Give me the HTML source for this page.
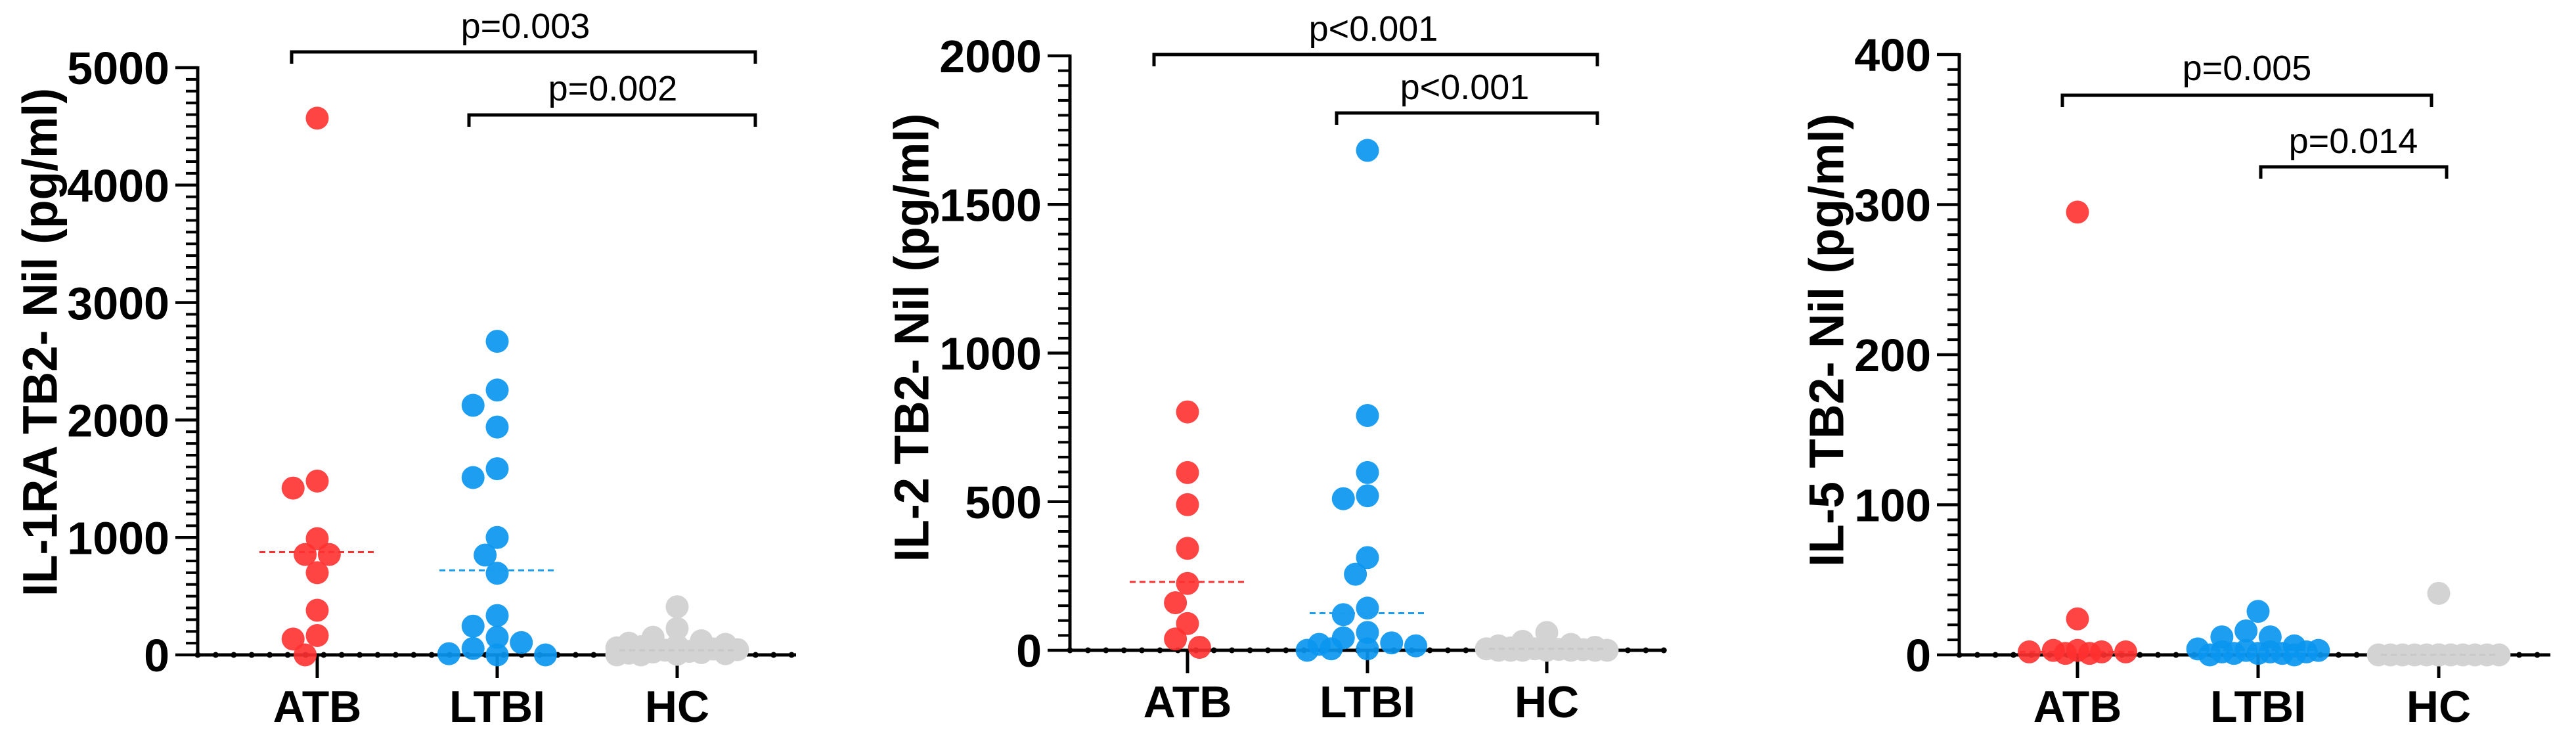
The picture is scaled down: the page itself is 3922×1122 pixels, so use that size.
<!DOCTYPE html>
<html><head><meta charset="utf-8"><style>
html,body{margin:0;padding:0;background:#fff}
svg{display:block}
text{font-family:"Liberation Sans",Arial,sans-serif}
</style></head><body>
<svg id="fig" width="3922" height="1122" viewBox="0 0 3922 1122" xmlns="http://www.w3.org/2000/svg"></svg>
<script>
// ---------- data ----------
const categories = ["ATB", "LTBI", "HC"];
const il1raATB = [0, 4570, 1420, 1480, 990, 855, 855, 700, 380, 165, 135];
const il1raLTBI = [2670, 2255, 2125, 1940, 1585, 1510, 1000, 850, 695, 335, 245, 150, 105, 55, 0, 10, 0];
const il1raHC = [410, 225, 150, 120, 100, 90, 80, 70, 60, 50, 45, 40, 30, 25, 20, 15, 10, 5, 0, 0];
const il1raMedians = [875, 720, 40];
const il1raTicks = [0, 1000, 2000, 3000, 4000, 5000];

const il2ATB = [802, 598, 490, 343, 225, 160, 90, 38, 10];
const il2LTBI = [1682, 790, 598, 520, 510, 312, 256, 142, 120, 60, 42, 20, 25, 5, 0, 5, 15];
const il2HC = [60, 30, 20, 15, 10, 10, 8, 5, 5, 3, 2, 0, 0, 0, 0, 0, 0, 0];
const il2Medians = [230, 125, 5];
const il2Ticks = [0, 500, 1000, 1500, 2000];

const il5ATB = [295, 24, 2, 3, 2, 3, 1, 1, 2];
const il5LTBI = [29, 16, 12, 12, 6, 3, 2, 1, 4, 2, 1, 0, 3, 2, 1, 0];
const il5HC = [41, 0, 0, 0, 0, 0, 0, 0, 0, 0, 0, 0, 0, 0, 0, 0, 0];
const il5Medians = [2, 2, 0];
const il5Ticks = [0, 100, 200, 300, 400];

const il1raP = ["p=0.003", "p=0.002"];
const il2P = ["p<0.001", "p<0.001"];
const il5P = ["p=0.005", "p=0.014"];
const yTitles = ["IL-1RA TB2- Nil (pg/ml)", "IL-2 TB2- Nil (pg/ml)", "IL-5 TB2- Nil (pg/ml)"];

// ---------- layout ----------
const NS = "http://www.w3.org/2000/svg";
const svg = document.getElementById("fig");
const colors = ["rgba(255,48,48,0.9)", "rgba(10,150,240,0.92)", "#d3d3d3"];
const medColors = ["#ff3030", "#1a9cf0", "#c8c8c8"];
function mk(tag, attrs, parent) {
  const e = document.createElementNS(NS, tag);
  for (const k in attrs) e.setAttribute(k, attrs[k]);
  (parent || svg).appendChild(e);
  return e;
}

const panels = [
  {axisX: 301, endX: 1212, y0: 997, yTop: 103, max: 5000, ticks: il1raTicks, minor: 10,
   cx: [483, 757, 1031], groups: [il1raATB, il1raLTBI, il1raHC], meds: il1raMedians,
   titleX: 61, titleY: 521, titleLen: 774, p: il1raP,
   br: [{x1: 444, x2: 1150, y: 79, ty: 58, tx: 800}, {x1: 714, x2: 1150, y: 175, ty: 153, tx: 933}]},
  {axisX: 1629, endX: 2536, y0: 990, yTop: 85, max: 2000, ticks: il2Ticks, minor: 10,
   cx: [1808, 2082, 2355], groups: [il2ATB, il2LTBI, il2HC], meds: il2Medians,
   titleX: 1388, titleY: 514, titleLen: 683, p: il2P,
   br: [{x1: 1757, x2: 2432, y: 83, ty: 62, tx: 2091}, {x1: 2035, x2: 2432, y: 172, ty: 151, tx: 2230}]},
  {axisX: 2983, endX: 3883, y0: 997, yTop: 83, max: 400, ticks: il5Ticks, minor: 10,
   cx: [3163, 3438, 3713], groups: [il5ATB, il5LTBI, il5HC], meds: il5Medians,
   titleX: 2781, titleY: 518, titleLen: 690, p: il5P,
   br: [{x1: 3140, x2: 3702, y: 145, ty: 122, tx: 3421}, {x1: 3442, x2: 3725, y: 254, ty: 233, tx: 3583}]}
];

const R = 17.5;
const MAXOFF = 100;

panels.forEach((P, pi) => {
  const g = mk("g", {});
  
  
  const yS = v => P.y0 - (v / P.max) * (P.y0 - P.yTop);

  const t = mk("text", {x: P.titleX, y: P.titleY, "font-size": 74, "font-weight": "bold",
    "text-anchor": "middle", "dominant-baseline": "central", textLength: P.titleLen,
    lengthAdjust: "spacingAndGlyphs", transform: `rotate(-90 ${P.titleX} ${P.titleY})`}, g);
  t.textContent = yTitles[pi];
  
  

  const step = P.ticks[1] - P.ticks[0];
  for (let i = 0; i < P.ticks.length; i++) {
    const y = yS(P.ticks[i]);
    mk("line", {x1: P.axisX - 34, x2: P.axisX, y1: y, y2: y, stroke: "#000", "stroke-width": 4.5}, g);
    const lb = mk("text", {x: P.axisX - 43, y: y, "font-size": 70, "font-weight": "bold",
      "text-anchor": "end", dy: "0.36em"}, g);
    lb.textContent = P.ticks[i];
    
    
    if (i < P.ticks.length - 1) {
      for (let m = 1; m < P.minor; m++) {
        const ym = yS(P.ticks[i] + step * m / P.minor);
        mk("line", {x1: P.axisX - 18, x2: P.axisX, y1: ym, y2: ym, stroke: "#000", "stroke-width": 4}, g);
      }
    }
  }
  const ya = mk("line", {x1: P.axisX, x2: P.axisX, y1: P.yTop - 2, y2: P.y0 + 2, stroke: "#000", "stroke-width": 5}, g);
  
  

  const xa = mk("line", {x1: P.axisX - 2, x2: P.endX, y1: P.y0, y2: P.y0, stroke: "#000", "stroke-width": 5}, g);
  
  
  const sp = (P.cx[1] - P.cx[0]) / 10;
  for (let x = P.axisX; x <= P.endX + 1; x += sp) mk("circle", {cx: x, cy: P.y0, r: 4.5, fill: "#000"}, g);
  categories.forEach((c, ci) => {
    mk("line", {x1: P.cx[ci], x2: P.cx[ci], y1: P.y0, y2: P.y0 + 35, stroke: "#000", "stroke-width": 5}, g);
    const cl = mk("text", {x: P.cx[ci], y: P.y0 + 102, "font-size": 68, "font-weight": "bold", "text-anchor": "middle"}, g);
    cl.textContent = c;
    
    
  });

  P.groups.forEach((vals, gi) => {
    const placed = [];
    const order = vals.map((v, i) => i).sort((a, b) => vals[b] - vals[a]);
    const pts = [];
    order.forEach(i => {
      const y = yS(vals[i]);
      const cands = [0];
      for (let k = 1; k * R * 1.05 <= MAXOFF; k++) { cands.push(-k * R * 1.05); cands.push(k * R * 1.05); }
      let best = 0, bestD = -1;
      for (const c of cands) {
        const d = placed.length ? Math.min(...placed.map(p => Math.hypot(p[0] - c, p[1] - y))) : 1e9;
        if (d >= R * 1.7) { best = c; bestD = d; break; }
        if (d > bestD) { bestD = d; best = c; }
      }
      placed.push([best, y]);
      pts.push([P.cx[gi] + best, y]);
    });
    pts.forEach(p => {
      const c = mk("circle", {cx: p[0], cy: p[1], r: R, fill: colors[gi]}, g);
      
      
    });
    const my = yS(P.meds[gi]);
    const ml = mk("line", {x1: P.cx[gi] - 88, x2: P.cx[gi] + 88, y1: my, y2: my, stroke: medColors[gi],
      "stroke-width": 3, "stroke-dasharray": "9 6"}, g);
    
    
  });

  P.br.forEach((b, bi) => {
    const pl = mk("polyline", {points: `${b.x1},${b.y + 18} ${b.x1},${b.y} ${b.x2},${b.y} ${b.x2},${b.y + 18}`,
      fill: "none", stroke: "#000", "stroke-width": 5}, g);
    
    
    const pt = mk("text", {x: b.tx, y: b.ty, "font-size": 54, "text-anchor": "middle"}, g);
    pt.textContent = P.p[bi];
    
    
  });
});
</script>
</body></html>
